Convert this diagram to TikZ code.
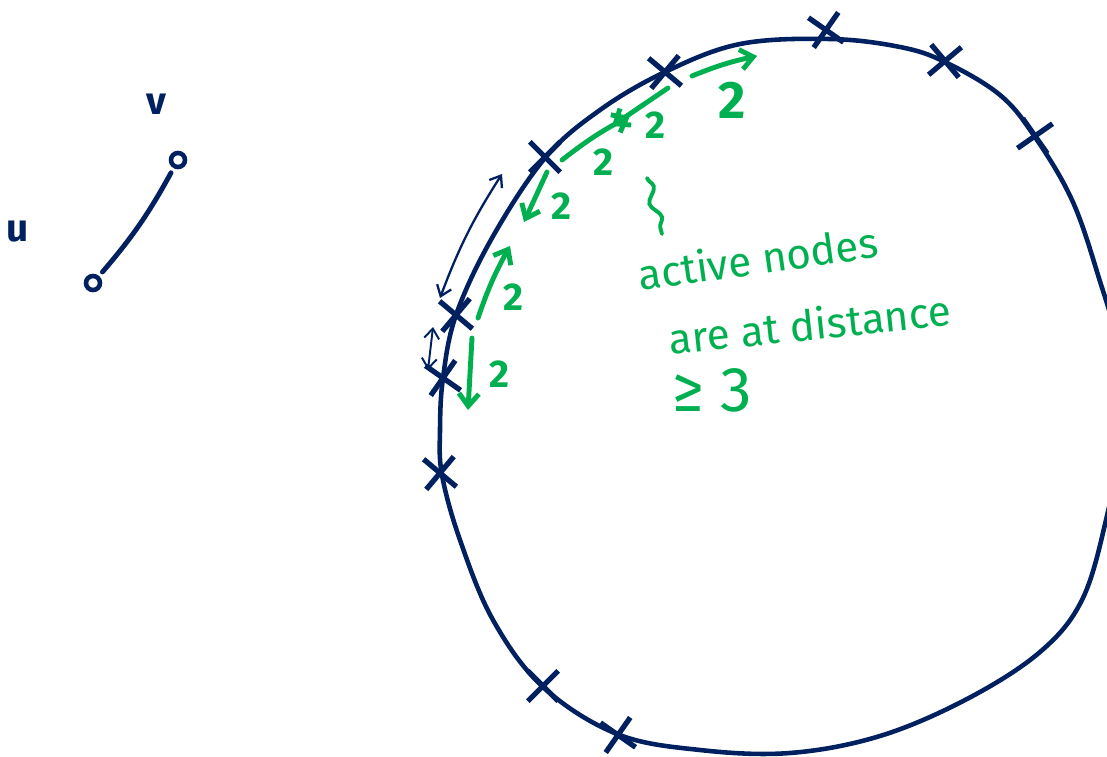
\documentclass[tikz,border=0pt]{standalone}
\usepackage{fontspec}
\setmainfont{Fira Sans}
\usetikzlibrary{arrows.meta, positioning, calc, shapes.misc, decorations.pathmorphing}
\definecolor{ink}{RGB}{0,32,96}
\definecolor{pen}{RGB}{0,176,80}
\tikzset{
  blob/.style={draw=ink, line width=2.6pt},
  xcross/.style={cross out, draw=ink, line width=3pt, minimum size=0.5cm, inner sep=0pt},
  vert/.style={circle, draw=ink, line width=2.6pt, minimum size=0.28cm, inner sep=0pt},
  garr/.style={draw=pen, line width=2.8pt, line cap=round, -{Straight Barb[length=2.5mm, width=4mm]}},
  narr/.style={draw=ink, line width=1.3pt, {Straight Barb[length=2mm, width=3mm]}-{Straight Barb[length=2mm, width=3mm]}},
  dist/.style={text=pen, font=\fontsize{22}{24}\selectfont\bfseries},
  note/.style={text=pen, font=\fontsize{24}{26}\selectfont, inner sep=1pt},
  lab/.style={text=ink, font=\fontsize{22}{24}\selectfont\bfseries},
}

\begin{document}
\begin{tikzpicture}[x=0.02cm, y=-0.02cm]
  \useasboundingbox (0,0) rectangle (1107,757);

  % left: the edge u--v
  \node[vert] (v) at (178,160) {};
  \node[vert] (u) at (93,283) {};
  \node[lab] (vl) at (156,104) {v};
  \node[lab] (ul) at (18,232) {u};
  \draw[draw=ink, line width=2.8pt, line cap=round, shorten <=3pt, shorten >=3pt] (v) to[bend left=6] (u);

  % the cycle
  \begin{scope}
    \clip (0,0) rectangle (1107,757);
    \draw[blob] plot[smooth cycle, tension=0.6] coordinates {
      (830,39) (900,47) (945,62) (1000,95) (1035,137) (1072,200) (1098,275)
      (1118,350) (1120,440) (1106,520) (1082,600) (1040,652) (967,699)
      (880,736) (790,753) (700,750) (617,734) (543,687) (493,620)
      (460,540) (442,475) (440,430) (443,378) (456,315) (492,238)
      (545,158) (600,110) (665,72) (740,44)};
  \end{scope}

  % crosses on the cycle
  \foreach \name/\pos/\ang in {c1/{(826,30)}/10, c2/{(945,61)}/-5, c3/{(1035,136)}/-10,
      c4/{(665,72)}/5, c5/{(545,157)}/0, c6/{(456,315)}/5, c7/{(443,378)}/10,
      c8/{(440,473)}/5, c9/{(543,686)}/0, c10/{(618,735)}/10}
    \node[xcross, rotate=\ang] (\name) at \pos {};

  % distances along the cycle
  \coordinate (g1) at (692,76);  \coordinate (g1e) at (757,56);
  \coordinate (g2) at (668,88);  \coordinate (g2e) at (612,126);
  \coordinate (g3) at (562,160); \coordinate (g3e) at (630,116);
  \coordinate (g4) at (547,172); \coordinate (g4e) at (524,222);
  \coordinate (g5) at (478,318); \coordinate (g5e) at (510,246);
  \coordinate (g6) at (472,338); \coordinate (g6e) at (468,410);
  \draw[garr] (g1) to[bend left=5] (g1e);
  \draw[garr] (g2) -- (g2e);
  \draw[garr] (g3) to[bend left=5] (g3e);
  \draw[garr] (g4) -- (g4e);
  \draw[garr] (g5) to[bend left=5] (g5e);
  \draw[garr] (g6) -- (g6e);
  \node[dist, font=\fontsize{30}{32}\selectfont\bfseries] (d1) at (732,100) {2};
  \node[dist] (d2) at (655,125) {2};
  \node[dist] (d3) at (603,162) {2};
  \node[dist] (d4) at (561,206) {2};
  \node[dist] (d5) at (513,297) {2};
  \node[dist] (d6) at (499,374) {2};

  % distance 1
  \coordinate (n1) at (502,174); \coordinate (n1e) at (440,298);
  \coordinate (n2) at (433,327); \coordinate (n2e) at (428,370);
  \draw[narr] (n1) to[bend right=6] (n1e);
  \draw[narr, line width=1.1pt] (n2) -- (n2e);

  % remark
  \draw[draw=pen, line width=2.2pt, line cap=round, decorate,
        decoration={snake, amplitude=2.5pt, segment length=18pt}] (647,178) -- (662,234);
  \node[note, rotate=8] (t1) at (758,258) {active nodes};
  \node[note, rotate=6] (t2) at (810,324) {are at distance};
  \node[note, font=\fontsize{36}{40}\selectfont] (t3) at (712,390) {≥ 3};
\end{tikzpicture}
\end{document}
